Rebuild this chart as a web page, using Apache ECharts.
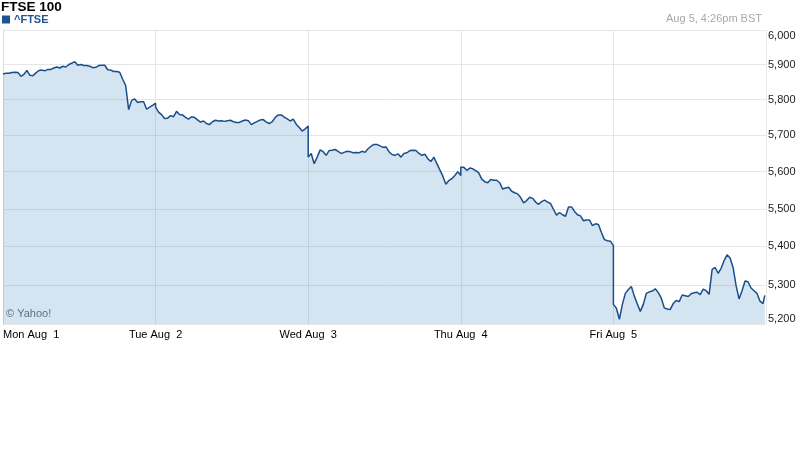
<!DOCTYPE html>
<html>
<head>
<meta charset="utf-8">
<script src="https://cdn.jsdelivr.net/npm/echarts@6/dist/echarts.min.js"></script>
<style>html,body{margin:0;padding:0;background:#fff}#c{width:800px;height:475px}</style>
</head>
<body>
<div id="c"></div>
<script>
var dayLabels = ['Mon Aug  1', 'Tue Aug  2', 'Wed Aug  3', 'Thu Aug  4', 'Fri Aug  5'];
var yTicks = [5200, 5300, 5400, 5500, 5600, 5700, 5800, 5900, 6000];
// 10-minute samples from 08:00; last sample of each day at close (minutes after 08:00)
var lastMinute = [510, 510, 510, 510, 506];
var mon = [5873,5875,5875,5877,5878,5877,5866,5872,5883,5869,
           5868,5876,5883,5884,5882,5886,5886,5890,5893,5890,
           5895,5893,5900,5904,5908,5898,5900,5897,5897,5895,
           5891,5892,5897,5898,5898,5885,5884,5880,5880,5878,
           5858,5840,5772,5798,5802,5792,5794,5794,5773,5779,
           5784,5790];
var tue = [5779,5765,5758,5747,5748,5755,5752,5767,5758,5757,
           5750,5745,5752,5750,5743,5737,5740,5733,5730,5738,
           5742,5740,5741,5739,5741,5742,5738,5736,5736,5740,
           5743,5741,5730,5735,5739,5743,5744,5737,5733,5738,
           5750,5757,5757,5751,5746,5740,5745,5731,5722,5712,
           5718,5726];
var wed = [5640,5650,5622,5640,5660,5655,5645,5658,5659,5661,
           5656,5650,5653,5656,5655,5652,5653,5652,5656,5653,
           5663,5670,5675,5675,5671,5667,5668,5655,5647,5645,
           5649,5640,5650,5652,5658,5659,5658,5650,5645,5648,
           5635,5628,5640,5622,5605,5588,5566,5576,5581,5590,
           5600,5590];
var thu = [5612,5612,5604,5610,5608,5603,5597,5580,5573,5570,
           5579,5577,5577,5570,5553,5556,5558,5547,5543,5540,
           5530,5516,5522,5531,5528,5518,5512,5519,5523,5518,
           5514,5498,5483,5490,5484,5480,5505,5505,5493,5484,
           5481,5468,5470,5470,5455,5460,5458,5437,5418,5415,
           5414,5402];
var fri = [5250,5240,5212,5250,5278,5288,5296,5271,5251,5232,
           5250,5278,5282,5284,5290,5280,5266,5241,5238,5237,
           5252,5260,5257,5274,5272,5270,5277,5280,5281,5275,
           5289,5285,5276,5340,5345,5330,5343,5363,5378,5370,
           5345,5298,5264,5285,5310,5308,5292,5285,5278,5258,
           5252,5273];
var days = [mon, tue, wed, thu, fri];

var seriesData = [];
days.forEach(function (vals, d) {
  vals.forEach(function (v, i) {
    var minute = (i === vals.length - 1) ? lastMinute[d] : i * 10;
    seriesData.push([d + minute / 510, v]);
  });
});

var font = '"Liberation Sans", Arial, sans-serif';
var chart = echarts.init(document.getElementById('c'), null, {renderer: 'canvas'});
chart.setOption({
  animation: false,
  backgroundColor: '#fff',
  textStyle: {fontFamily: font},
  title: [
    {text: 'FTSE 100', left: 1, top: 0, padding: 0,
     textStyle: {fontFamily: font, fontSize: 13.5, fontWeight: 'bold', color: '#000'}},
    {text: 'Aug 5, 4:26pm BST', right: 38, top: 13, padding: 0,
     textStyle: {fontFamily: font, fontSize: 11, fontWeight: 'normal', color: '#a8a8a8'}}
  ],
  legend: {
    left: 2, top: 14, padding: 0, itemWidth: 8, itemHeight: 8, itemGap: 4,
    icon: 'rect',
    data: ['^FTSE'],
    textStyle: {fontFamily: font, fontSize: 11, fontWeight: 'bold', color: '#1f5494', padding: [0, 0, 0, -1]}
  },
  grid: {left: 3, right: 34, top: 30, bottom: 151, containLabel: false},
  xAxis: {
    type: 'value', min: 0, max: 5, interval: 1,
    axisLine: {show: false}, axisTick: {show: false},
    splitLine: {show: true, lineStyle: {color: '#e6e6e6', width: 1}},
    axisLabel: {
      color: '#000', fontSize: 11, fontFamily: font, margin: 5,
      alignMinLabel: 'left',
      formatter: function (v) { return dayLabels[Math.round(v)] || ''; }
    }
  },
  yAxis: {
    type: 'log', logBase: 10, min: 5200, max: 6000, position: 'right',
    axisLine: {show: true, lineStyle: {color: '#dcdcdc'}},
    axisTick: {show: false, customValues: yTicks},
    splitLine: {show: true, lineStyle: {color: '#e6e6e6', width: 1}},
    axisLabel: {
      customValues: yTicks,
      color: '#222', fontSize: 11, fontFamily: font, margin: 2,
      verticalAlignMinLabel: 'bottom', verticalAlignMaxLabel: 'top',
      formatter: function (v) { return echarts.format.addCommas(Math.round(v)); }
    }
  },
  graphic: [
    {type: 'text', left: 6, top: 308, style: {text: '\u00a9 Yahoo!', fill: '#6e6e6e', font: '11px ' + font}}
  ],
  series: [{
    name: '^FTSE', type: 'line', data: seriesData,
    showSymbol: false, symbol: 'none',
    itemStyle: {color: '#1f5494'},
    lineStyle: {color: '#1a4e8a', width: 1.5},
    areaStyle: {color: 'rgba(47,122,184,0.2)', opacity: 1}
  }]
});
</script>
</body>
</html>
